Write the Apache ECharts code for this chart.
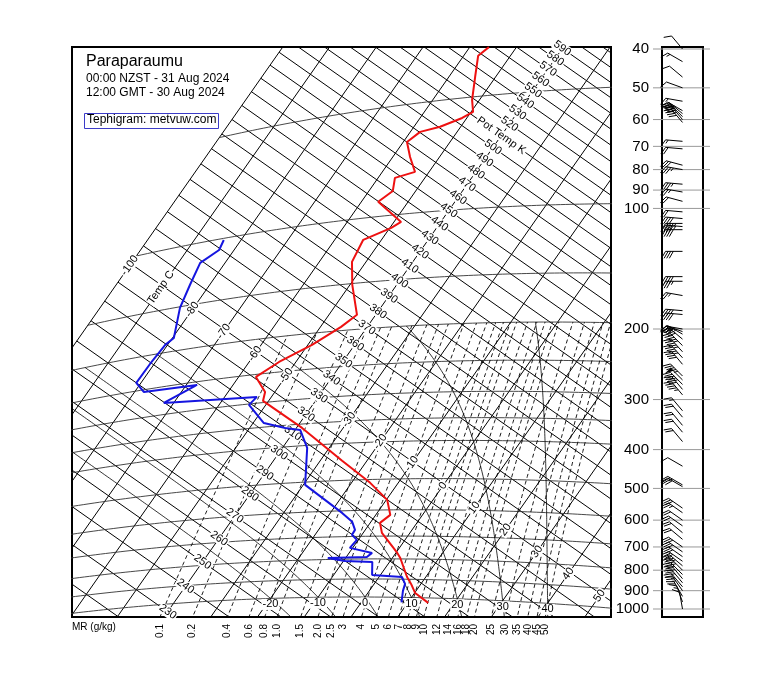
<!DOCTYPE html>
<html><head><meta charset="utf-8">
<script src="https://cdn.jsdelivr.net/npm/echarts@6/dist/echarts.min.js"></script>
<style>html,body{margin:0;padding:0;background:#fff}#c{width:760px;height:690px}</style>
</head><body><div id="c"></div>
<script>
// ---------------- data ----------------
const tempP = [36.9,38.7,44.1,50.9,54.9,56.7,59.1,60.2,63.6,70.1,77.3,79.2,85.9,91.1,104.9,108.3,114.7,130.9,151.2,182.8,195.4,215.2,234.7,254.0,280.9,296.9,358.5,444.3,510.0,565.6,617.9,647.4,686.6,772.6,795.7,888.5,924.6,973.4,1029];
const tempT = [-55.9,-56.9,-54.4,-51.6,-49.6,-51.0,-54.4,-57.9,-59.2,-56.3,-53.0,-56.4,-54.9,-56.4,-48.5,-49.7,-53.9,-53.0,-49.5,-44.0,-45.6,-49.1,-53.6,-56.3,-52.1,-51.2,-38.8,-25.3,-16.0,-9.8,-6.9,-7.9,-6.0,0.3,1.7,6.0,7.9,10.1,14.4];
const dewP = [101.1,107.5,114.6,131.2,151.1,183.3,190.1,212.1,236.8,253.7,255.2,278.3,288.4,301.7,341.2,355.7,362.6,406.3,508.6,607.5,641.7,673.2,693.3,714.5,748.6,772.3,790.9,792.9,808.5,814.2,878.6,888.5,924.6,963.2,1029];
const dewT = [-83.7,-83.2,-85.3,-84.2,-82.9,-79.7,-80.5,-80.9,-81.0,-78.0,-67.7,-72.1,-53.1,-53.6,-47.7,-42.4,-38.9,-34.7,-29.6,-17.5,-14.0,-12.2,-12.1,-10.3,-10.6,-5.1,-5.6,-13.8,-9.7,-3.7,-1.8,4.9,6.6,7.2,8.6];

const windP = [40,43,47,50,54,57,58,59,60,61,68,71,78,80,87,91,96,102,106,109,111,113,128,148,152,165,180,184,200,203,206,212,220,228,236,245,262,268,275,283,292,320,332,348,362,382,440,490,495,560,575,600,620,645,670,700,720,740,760,780,800,820,840,860,880,900,930,960,1000];
const windDir = [320,300,310,290,280,300,310,315,320,320,275,275,285,280,275,280,285,275,275,270,275,270,270,270,270,280,275,275,280,290,300,310,315,318,318,320,315,315,315,320,320,320,320,320,320,320,300,300,300,305,305,305,305,310,310,305,305,305,305,310,315,315,320,320,320,325,330,340,350];
const windSpd = [10,15,10,10,15,35,40,40,35,40,15,20,30,35,35,25,20,20,40,45,45,40,40,40,35,25,35,40,40,45,30,40,45,45,45,40,45,50,45,40,45,15,20,20,20,20,10,25,30,30,25,20,20,20,20,30,30,30,30,35,35,30,30,25,25,25,20,15,10];

const pressureTicks = [40,50,60,70,80,90,100,200,300,400,500,600,700,800,900,1000];
const isobarLevels = [50,100,150,200,250,300,350,400,500,600,700,800,900,1000];
const isothermLevels = [-100,-90,-80,-70,-60,-50,-40,-30,-20,-10,0,10,20,30,40,50];
const isothermLabels = ['-100','Temp C','-80','-70','-60','-50','-40','-30','-20','-10','0','10','20','30','40','50'];
const isentropeLabelTh = [230,240,250,260,270,280,290,300,310,320,330,340,350,360,370,380,390,400,410,420,430,440,450,460,470,480,490,500,510,520,530,540,550,560,570,580,590];
const mrValues = [0.1,0.2,0.4,0.6,0.8,1.0,1.5,2.0,2.5,3,4,5,6,7,8,9,10,12,14,16,18,20,25,30,35,40,45,50];
const mrLabels = ['0.1','0.2','0.4','0.6','0.8','1.0','1.5','2.0','2.5','3','4','5','6','7','8','9','10','12','14','16','18','20','25','30','35','40','45','50'];
const moistLevels = [-20,-10,0,10,20,30,40];
const moistLabels = ['-20','-10','0','10','20','30','40'];

// ---------------- tephigram projection ----------------
const KAPPA = 0.2857;
const PROJ = {aT: 3.133, aL: 419.0, bT: -2.202, bL: 598.0};
const X_MIN = 2057.6, X_MAX = 2596.6, Y_MIN = 3334.8, Y_MAX = 3904.8;
function tephTh(Tc, th){ const L = Math.log(th); return [PROJ.aT*Tc + PROJ.aL*L, PROJ.bT*Tc + PROJ.bL*L]; }
function teph(Tc, p){ return tephTh(Tc, (Tc+273.15)*Math.pow(1000/p, KAPPA)); }
function dewFromMR(w, p){ const r=w/1000; const e=r*p/(0.622+r); const a=Math.log(e/6.112); return 243.5*a/(17.67-a); }

const FONT = '"Liberation Sans", Arial, Helvetica, sans-serif';
const series = [];
function lineSeries(pts, style){
  series.push({type:'line', xAxisIndex:0, yAxisIndex:0, data:pts, showSymbol:false, symbol:'none', silent:true,
    clip:true, z:2, lineStyle:Object.assign({color:'#000', width:1}, style)});
}
// isotherms
isothermLevels.forEach(T => lineSeries([tephTh(T,150), tephTh(T,900)], {width:1}));
// isentropes
for (let th=200; th<=620; th+=10) lineSeries([tephTh(-100,th), tephTh(70,th)], {width:1});
// isobars
isobarLevels.forEach(p => { const pts=[]; for(let T=-100;T<=70;T+=1) pts.push(teph(T,p)); lineSeries(pts, {color:'#333', width:0.9}); });
// mixing ratio lines
mrValues.forEach(w => { const pts=[]; for(let p=1120;p>=200;p-=10) pts.push(teph(dewFromMR(w,p),p)); lineSeries(pts, {width:0.9, type:[4,3]}); });
// saturated adiabats
function moistAdiabat(twC){
  const Rd=287.04, cp=1005.7, Lv=2.501e6, eps=0.622;
  function f(T,p){ const Tc=T-273.15; const es=6.112*Math.exp(17.67*Tc/(Tc+243.5)); const rs=eps*es/(p-es);
    return (Rd*T+Lv*rs)/(p*(cp+Lv*Lv*rs*eps/(Rd*T*T))); }
  const up=[], down=[];
  let T=twC+273.15;
  for(let p=1000;p>200;p-=2){ up.push(teph(T-273.15,p)); const dp=-2; const k1=f(T,p); const k2=f(T+k1*dp,p+dp); T+=dp*(k1+k2)/2; }
  up.push(teph(T-273.15,200));
  T=twC+273.15;
  for(let p=1000;p<1120;p+=2){ const dp=2; const k1=f(T,p); const k2=f(T+k1*dp,p+dp); T+=dp*(k1+k2)/2; down.push(teph(T-273.15,p+dp)); }
  return down.reverse().concat(up);
}
moistLevels.forEach(tw => lineSeries(moistAdiabat(tw), {width:0.8}));

// label helper
function labelSeries(items, font, z){
  series.push({type:'custom', xAxisIndex:0, yAxisIndex:0, silent:true, z:z||3, encode:{x:0,y:1},
    data: items.map(it => it.pos),
    renderItem: (params, api) => {
      const it = items[params.dataIndex];
      const pt = api.coord([api.value(0), api.value(1)]);
      return {type:'text', x:pt[0]+(it.dx||0), y:pt[1]+(it.dy||0), rotation:it.rot||0,
        style:{text:it.text, fill:'#000', font:font, align:it.align||'center', verticalAlign:'middle',
          backgroundColor: it.nobg ? 'transparent' : '#fff', padding:[0,1]}};
    }});
}
const rotIsotherm = Math.atan2(PROJ.bL, PROJ.aL);
const rotIsentrope = Math.atan2(PROJ.bT, PROJ.aT);
labelSeries(isothermLevels.map((T,i)=>({pos:tephTh(T,329), text:isothermLabels[i], rot:rotIsotherm})), '11px '+FONT);
labelSeries(isentropeLabelTh.map(th=>({pos:tephTh(-40,th), text: th===510?'Pot Temp K':String(th), rot:rotIsentrope})), '11px '+FONT);
labelSeries(moistLevels.map((T,i)=>({pos:teph(T,1000), text:moistLabels[i], dy:6})), '11px '+FONT);
// MR labels at bottom edge
function vOf(w,p){ return teph(dewFromMR(w,p),p)[1]; }
labelSeries(mrValues.map((w,i)=>{
  let lo=850, hi=1300;
  for(let k=0;k<50;k++){ const mid=(lo+hi)/2; if (vOf(w,mid) > Y_MIN) lo=mid; else hi=mid; }
  const u = teph(dewFromMR(w,lo),lo)[0];
  return {pos:[u, Y_MIN], text:mrLabels[i], rot:Math.PI/2, align:'right', dy:6, nobg:true};
}), '10px '+FONT, 6);

// profiles
series.push({type:'line', xAxisIndex:0, yAxisIndex:0, data:tempP.map((p,i)=>teph(tempT[i],p)), showSymbol:false, symbol:'none', clip:true, z:8, silent:true, lineStyle:{color:'#ee1111', width:2}});
series.push({type:'line', xAxisIndex:0, yAxisIndex:0, data:dewP.map((p,i)=>teph(dewT[i],p)), showSymbol:false, symbol:'none', clip:true, z:8, silent:true, lineStyle:{color:'#1515e0', width:2}});

// wind panel: pressure ticks
series.push({type:'custom', xAxisIndex:1, yAxisIndex:1, silent:true, z:3, encode:{x:0,y:1},
  data: pressureTicks.map(p=>[0, Math.log(p)]),
  renderItem: (params, api) => {
    const cs = params.coordSys; const pt = api.coord([0, api.value(1)]);
    return {type:'group', children:[
      {type:'line', shape:{x1:cs.x-9, y1:pt[1], x2:cs.x+cs.width+7, y2:pt[1]}, style:{stroke:'#999', lineWidth:1}},
      {type:'text', x:cs.x-13, y:pt[1], style:{text:String(pressureTicks[params.dataIndex]), fill:'#000', font:'15px '+FONT, align:'right', verticalAlign:'middle'}}
    ]};
  }});
// wind barbs
series.push({type:'custom', xAxisIndex:1, yAxisIndex:1, silent:true, z:4, encode:{x:0,y:1},
  data: windP.map((p,i)=>[0, Math.log(p), windDir[i], windSpd[i]]),
  renderItem: (params, api) => {
    const pt = api.coord([api.value(0), api.value(1)]);
    const d = api.value(2)*Math.PI/180; let s = Math.round(api.value(3)/5)*5;
    const dx=Math.sin(d), dy=-Math.cos(d), nx=dy, ny=-dx;
    const staff=17, flen=8, step=2.6;
    const tip=[pt[0]+dx*staff, pt[1]+dy*staff];
    const fvx=nx*0.866+dx*0.5, fvy=ny*0.866+dy*0.5;
    const st={stroke:'#000', lineWidth:1};
    const ch=[{type:'line', shape:{x1:pt[0],y1:pt[1],x2:tip[0],y2:tip[1]}, style:st}];
    let pos=0;
    while(s>=50){ const b0=[tip[0]-dx*pos,tip[1]-dy*pos], b1=[tip[0]-dx*(pos+4),tip[1]-dy*(pos+4)];
      ch.push({type:'polygon', shape:{points:[b0,[b0[0]+nx*flen,b0[1]+ny*flen],b1]}, style:{fill:'#000'}}); pos+=5; s-=50; }
    while(s>=10){ const b=[tip[0]-dx*pos,tip[1]-dy*pos];
      ch.push({type:'line', shape:{x1:b[0],y1:b[1],x2:b[0]+fvx*flen,y2:b[1]+fvy*flen}, style:st}); pos+=step; s-=10; }
    if(s>=5){ if(pos===0) pos=step; const b=[tip[0]-dx*pos,tip[1]-dy*pos];
      ch.push({type:'line', shape:{x1:b[0],y1:b[1],x2:b[0]+fvx*flen/2,y2:b[1]+fvy*flen/2}, style:st}); }
    return {type:'group', children:ch};
  }});

const chart = echarts.init(document.getElementById('c'), null, {renderer:'canvas'});
chart.setOption({
  animation:false,
  backgroundColor:'#fff',
  grid:[
    {left:72, top:47, width:539, height:570, show:true, borderColor:'#000', borderWidth:2, backgroundColor:'transparent'},
    {left:662, top:47, width:41, height:570, show:true, borderColor:'#000', borderWidth:2, backgroundColor:'transparent'}
  ],
  xAxis:[
    {type:'value', gridIndex:0, min:X_MIN, max:X_MAX, show:false},
    {type:'value', gridIndex:1, min:-1, max:1, show:false}
  ],
  yAxis:[
    {type:'value', gridIndex:0, min:Y_MIN, max:Y_MAX, show:false},
    {type:'value', gridIndex:1, min:Math.log(39.54), max:Math.log(1047), inverse:true, show:false}
  ],
  graphic:[
    {type:'text', left:86, top:54, z:10, style:{text:'Paraparaumu', font:'16px '+FONT, fill:'#000'}},
    {type:'text', left:86, top:73, z:10, style:{text:'00:00 NZST - 31 Aug 2024', font:'12px '+FONT, fill:'#000'}},
    {type:'text', left:86, top:87, z:10, style:{text:'12:00 GMT - 30 Aug 2024', font:'12px '+FONT, fill:'#000'}},
    {type:'rect', z:10, shape:{x:84.5, y:113.5, width:134, height:15}, style:{fill:'#fff', stroke:'#3b3bc8', lineWidth:1}},
    {type:'text', left:87, top:114, z:11, style:{text:'Tephigram: metvuw.com', font:'12px '+FONT, fill:'#000'}},
    {type:'text', left:72, top:622, z:10, style:{text:'MR (g/kg)', font:'10px '+FONT, fill:'#000'}}
  ],
  series: series
});
</script></body></html>
